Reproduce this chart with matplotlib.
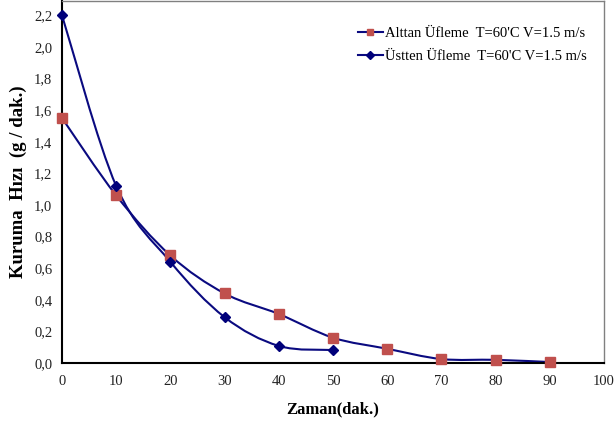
import matplotlib
matplotlib.use("Agg")
import matplotlib.pyplot as plt
from matplotlib.path import Path
from matplotlib.patches import PathPatch
from matplotlib.lines import Line2D

plt.rcParams['font.family'] = ['Liberation Serif', 'DejaVu Serif']

x_alt = [0, 10, 20, 30, 40, 50, 60, 70, 80, 90]
y_alt = [1.55, 1.06, 0.68, 0.44, 0.31, 0.16, 0.09, 0.025, 0.02, 0.006]
x_ust = [0, 10, 20, 30, 40, 50]
y_ust = [2.2, 1.12, 0.64, 0.29, 0.108, 0.082]
label_alt = "Alttan Üfleme  T=60'C V=1.5 m/s"
label_ust = "Üstten Üfleme  T=60'C V=1.5 m/s"
xticks = [0, 10, 20, 30, 40, 50, 60, 70, 80, 90, 100]
yticks = [0.0, 0.2, 0.4, 0.6, 0.8, 1.0, 1.2, 1.4, 1.6, 1.8, 2.0, 2.2]

line_color = '#0a0a80'
red = '#c0504d'
navy = '#00007a'


def smooth_path(xs, ys):
    pts = list(zip(xs, ys))
    n = len(pts)
    verts = [pts[0]]
    codes = [Path.MOVETO]
    for i in range(n - 1):
        p0 = pts[i - 1] if i > 0 else pts[i]
        p1 = pts[i]
        p2 = pts[i + 1]
        p3 = pts[i + 2] if i + 2 < n else pts[i + 1]
        c1 = (p1[0] + (p2[0] - p0[0]) / 6, p1[1] + (p2[1] - p0[1]) / 6)
        c2 = (p2[0] - (p3[0] - p1[0]) / 6, p2[1] - (p3[1] - p1[1]) / 6)
        verts += [c1, c2, p2]
        codes += [Path.CURVE4] * 3
    return Path(verts, codes)


fig = plt.figure(figsize=(6.16, 4.21), dpi=100)
ax = fig.add_axes([0.1006, 0.1378, 0.8799, 0.8598])

for xs, ys in [(x_alt, y_alt), (x_ust, y_ust)]:
    ax.add_patch(PathPatch(smooth_path(xs, ys), facecolor='none',
                           edgecolor=line_color, lw=1.5, zorder=2))

ax.plot(x_alt, y_alt, linestyle='none', marker='s', markersize=7.2,
        color=red, zorder=3, clip_on=False)
ax.plot(x_ust, y_ust, linestyle='none', marker='D', markersize=5.5,
        color=navy, zorder=3, clip_on=False)

ax.set_xlim(0, 100)
ax.set_ylim(0, 2.29)
ax.set_xticks(xticks)
ax.set_xticklabels([str(t) for t in xticks])
ax.set_yticks(yticks)
ax.set_yticklabels([f"{t:.1f}".replace('.', ',') for t in yticks])
ax.tick_params(axis='both', length=0, labelsize=10.5, colors='#222222')
ax.tick_params(axis='x', pad=9)
ax.tick_params(axis='y', pad=7)

for s in ['left', 'bottom']:
    ax.spines[s].set_color('black')
    ax.spines[s].set_linewidth(1.5)
for s in ['top', 'right']:
    ax.spines[s].set_color('#808080')
    ax.spines[s].set_linewidth(1.0)

ax.set_xlabel('Zaman(dak.)', fontsize=12, fontweight='bold', labelpad=9)
ax.set_ylabel('Kuruma  Hızı  (g / dak.)', fontsize=13.5, fontweight='bold',
              labelpad=5)

handles = [
    Line2D([], [], color=line_color, lw=1.5, marker='s', markersize=5,
           markerfacecolor=red, markeredgecolor=red),
    Line2D([], [], color=line_color, lw=1.5, marker='D', markersize=4,
           markerfacecolor=navy, markeredgecolor=navy),
]
ax.legend(handles, [label_alt, label_ust], loc='upper left',
          bbox_to_anchor=(0.522, 0.966), frameon=False, fontsize=10.5,
          handlelength=1.7, handletextpad=0.15, labelspacing=0.7)

fig.savefig('out.png', dpi=100)
